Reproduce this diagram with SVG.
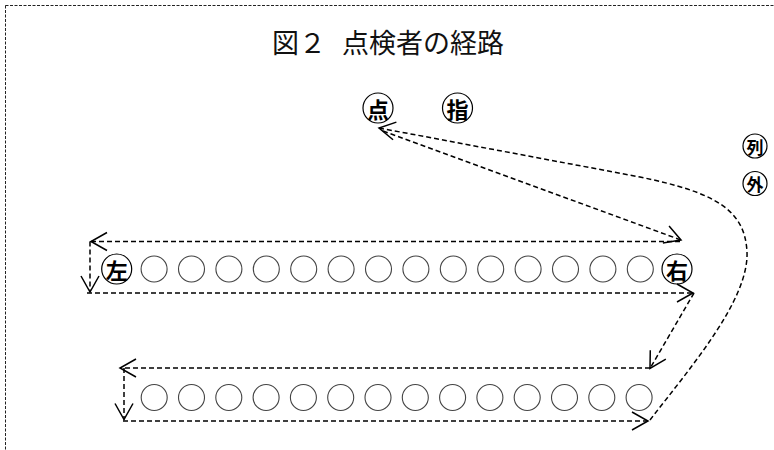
<svg xmlns="http://www.w3.org/2000/svg" width="774" height="450" viewBox="0 0 774 450">
<style>
.border{fill:none;stroke:#222;stroke-width:1;stroke-dasharray:3 1.5}
.title{font-family:"Noto Sans CJK JP","Liberation Serif",serif;font-size:27px;font-weight:400;fill:#111}
.c{fill:#fff;stroke:#444;stroke-width:1.1}
.lc{fill:#fff;stroke:#000;stroke-width:1.2}
.lt{font-family:"Noto Sans CJK JP",sans-serif;font-weight:700;fill:#000;text-anchor:middle;dominant-baseline:central}
.big{font-size:22px}
.small{font-size:17px}
.conn path{fill:none;stroke:#000;stroke-width:1.5;stroke-dasharray:5 3;marker-end:url(#ah)}
</style>
<defs>
<marker id="ah" markerUnits="userSpaceOnUse" markerWidth="24" markerHeight="24" viewBox="-20 -12 24 24" refX="0" refY="0" orient="auto" overflow="visible">
<path d="M-16,-9 L0,0 L-16,9" fill="none" stroke="#000" stroke-width="1.5"/>
</marker>
</defs>
<rect class="border" x="5.5" y="5.5" width="820" height="500"/>
<text class="title" y="53"><tspan x="272">図２</tspan><tspan x="342">点検者の経路</tspan></text>

<g id="node-ten"><circle class="lc" cx="378" cy="108" r="15"/><text class="lt big" x="378" y="108">点</text></g>
<g id="node-shi"><circle class="lc" cx="457.5" cy="108" r="15"/><text class="lt big" x="457.5" y="108">指</text></g>
<g id="node-retsu"><circle class="lc" cx="755" cy="146" r="12"/><text class="lt small" x="755" y="146">列</text></g>
<g id="node-soto"><circle class="lc" cx="755" cy="183.5" r="12"/><text class="lt small" x="755" y="183.5">外</text></g>

<g id="row1">
<g id="node-hidari"><circle class="lc" cx="116.7" cy="269" r="15"/><text class="lt big" x="116.7" y="269">左</text></g>
<circle class="c" cx="154.1" cy="269" r="13"/>
<circle class="c" cx="191.5" cy="269" r="13"/>
<circle class="c" cx="228.9" cy="269" r="13"/>
<circle class="c" cx="266.3" cy="269" r="13"/>
<circle class="c" cx="303.7" cy="269" r="13"/>
<circle class="c" cx="341.1" cy="269" r="13"/>
<circle class="c" cx="378.5" cy="269" r="13"/>
<circle class="c" cx="415.9" cy="269" r="13"/>
<circle class="c" cx="453.3" cy="269" r="13"/>
<circle class="c" cx="490.7" cy="269" r="13"/>
<circle class="c" cx="528.1" cy="269" r="13"/>
<circle class="c" cx="565.5" cy="269" r="13"/>
<circle class="c" cx="602.9" cy="269" r="13"/>
<circle class="c" cx="640.3" cy="269" r="13"/>
<g id="node-migi"><circle class="lc" cx="677" cy="269" r="15"/><text class="lt big" x="677" y="269">右</text></g>
</g>

<g id="row2">
<circle class="c" cx="154.2" cy="397.5" r="13"/>
<circle class="c" cx="191.5" cy="397.5" r="13"/>
<circle class="c" cx="228.8" cy="397.5" r="13"/>
<circle class="c" cx="266.1" cy="397.5" r="13"/>
<circle class="c" cx="303.4" cy="397.5" r="13"/>
<circle class="c" cx="340.7" cy="397.5" r="13"/>
<circle class="c" cx="378.0" cy="397.5" r="13"/>
<circle class="c" cx="415.3" cy="397.5" r="13"/>
<circle class="c" cx="452.6" cy="397.5" r="13"/>
<circle class="c" cx="489.9" cy="397.5" r="13"/>
<circle class="c" cx="527.2" cy="397.5" r="13"/>
<circle class="c" cx="564.5" cy="397.5" r="13"/>
<circle class="c" cx="601.8" cy="397.5" r="13"/>
<circle class="c" cx="639.1" cy="397.5" r="13"/>
</g>

<g id="connectors" class="conn">
<path d="M383,131 L681,240"/>
<path d="M680,241.5 L91,241.5"/>
<path d="M90,241.5 L90,292"/>
<path d="M87,293 L693,293"/>
<path d="M694,293 L650,368.5"/>
<path d="M650,368 L120,368"/>
<path d="M124,368 L124,419.5"/>
<path d="M123,421 L648,421"/>
<path d="M650,420 C690,368 749,300 747,252 C745,208 712,192 640,177 L379,128"/>
</g>
</svg>
